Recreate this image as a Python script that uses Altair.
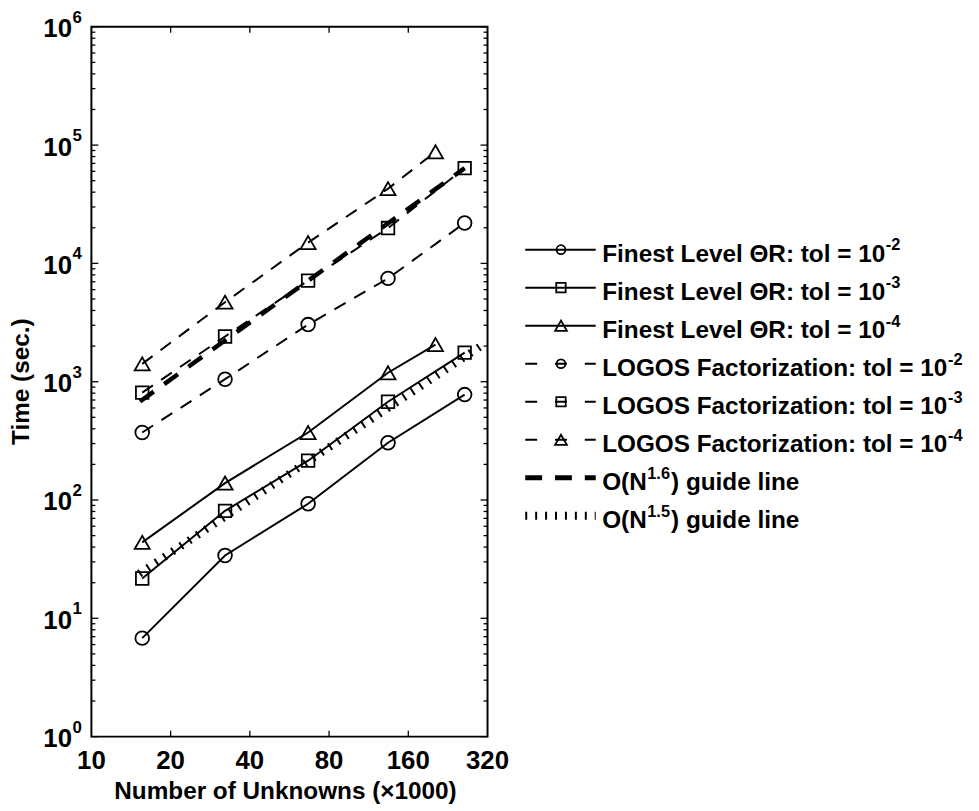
import altair as alt
import pandas as pd

# ---------------- data ----------------
x_main = [15.6, 32.2, 66.6, 134, 262]
x_tri = [15.6, 32.2, 66.6, 134, 203]

fine_1e2 = [6.8, 34, 93, 305, 778]
fine_1e3 = [21.7, 81, 215, 677, 1760]
fine_1e4 = [43.8, 139, 372, 1190, 2060]
logos_1e2 = [372, 1050, 3040, 7470, 21970]
logos_1e3 = [808, 2410, 7150, 19900, 63800]
logos_1e4 = [1415, 4700, 15000, 42800, 87700]

guide16_x = [15.3, 262]
guide16_y = [680, 63800]
guide15_x = [15.2, 304]
guide15_y = [23.8, 2020]

x_tick_vals = [10, 20, 40, 80, 160, 320]
x_tick_labels = ["10", "20", "40", "80", "160", "320"]
x_inner_ticks = [20, 40, 80, 160]
y_major = [1, 10, 100, 1000, 10000, 100000, 1000000]
y_exps = ["0", "1", "2", "3", "4", "5", "6"]
y_minor = [m * 10 ** k for k in range(6) for m in range(2, 10)]

legend_base = ["Finest Level \u0398R: tol = 10", "Finest Level \u0398R: tol = 10",
               "Finest Level \u0398R: tol = 10", "LOGOS Factorization: tol = 10",
               "LOGOS Factorization: tol = 10", "LOGOS Factorization: tol = 10",
               "O(N", "O(N"]
legend_exp = ["-2", "-3", "-4", "-2", "-3", "-4", "1.6", "1.5"]
legend_tail = ["", "", "", "", "", "", ") guide line", ") guide line"]

x_title = "Number of Unknowns (\u00d71000)"
y_title = "Time (sec.)"

# ---------------- layout / style ----------------
W, H = 399, 715
FONT = "Liberation Sans"
xs = alt.Scale(type="log", domain=[10, 320], nice=False)
ys = alt.Scale(type="log", domain=[1, 1000000], nice=False)

# Arial-bold advance widths (per 1000 em) to place superscripts
AW = {' ': 278, '(': 333, ')': 333, '.': 278, ':': 333, '=': 584, '-': 333,
      'F': 611, 'L': 611, 'O': 778, 'G': 778, 'S': 667, 'N': 722, 'R': 722,
      '\u0398': 778, 'a': 556, 'c': 556, 'e': 556, 'g': 611, 'i': 278,
      'l': 278, 'n': 611, 'o': 611, 'r': 389, 's': 556, 't': 333, 'u': 611,
      'v': 556, 'z': 500, 'd': 611}


def text_w(s, size):
    return sum(AW.get(c, 556) for c in s) * size / 1000.0


one = pd.DataFrame({"a": [0]})
layers = []


def add_series(xv, yv, shape, dash, size):
    df = pd.DataFrame({"x": xv, "y": yv})
    base = alt.Chart(df).encode(
        x=alt.X("x:Q", scale=xs, axis=None),
        y=alt.Y("y:Q", scale=ys, axis=None),
    )
    if dash:
        ln = base.mark_line(color="black", strokeWidth=2, strokeDash=dash)
    else:
        ln = base.mark_line(color="black", strokeWidth=2)
    pt = base.mark_point(shape=shape, filled=False, color="black",
                         strokeWidth=1.8, size=size, opacity=1)
    layers.extend([ln, pt])


def add_guide(xv, yv, width, dash):
    df = pd.DataFrame({"x": xv, "y": yv})
    layers.append(
        alt.Chart(df).mark_line(color="black", strokeWidth=width, strokeDash=dash,
                                strokeCap="butt").encode(
            x=alt.X("x:Q", scale=xs, axis=None),
            y=alt.Y("y:Q", scale=ys, axis=None),
        )
    )


add_guide(guide15_x, guide15_y, 8, [2, 8])
add_guide(guide16_x, guide16_y, 4.5, [17, 13])

DASH = [13, 10]
add_series(x_main, fine_1e2, "circle", None, 190)
add_series(x_main, fine_1e3, "square", None, 160)
add_series(x_tri, fine_1e4, "triangle-up", None, 230)
add_series(x_main, logos_1e2, "circle", DASH, 190)
add_series(x_main, logos_1e3, "square", DASH, 160)
add_series(x_tri, logos_1e4, "triangle-up", DASH, 230)

# ---------------- ticks (inward) ----------------
ymaj_df = pd.DataFrame({"v": y_major, "e": y_exps})
ymin_df = pd.DataFrame({"v": y_minor})
for df, ln in [(ymaj_df, 7), (ymin_df, 4)]:
    enc_y = alt.Y("v:Q", scale=ys, axis=None)
    layers.append(alt.Chart(df).mark_rule(color="black", strokeWidth=1.3).encode(
        y=enc_y, x=alt.value(0), x2=alt.value(ln)))
    layers.append(alt.Chart(df).mark_rule(color="black", strokeWidth=1.3).encode(
        y=enc_y, x=alt.value(W), x2=alt.value(W - ln)))

xt_df = pd.DataFrame({"v": x_inner_ticks})
enc_x = alt.X("v:Q", scale=xs, axis=None)
layers.append(alt.Chart(xt_df).mark_rule(color="black", strokeWidth=1.3).encode(
    x=enc_x, y=alt.value(H), y2=alt.value(H - 6)))
layers.append(alt.Chart(xt_df).mark_rule(color="black", strokeWidth=1.3).encode(
    x=enc_x, y=alt.value(0), y2=alt.value(6)))

# ---------------- tick labels ----------------
layers.append(alt.Chart(ymaj_df).mark_text(
    text="10", align="right", baseline="alphabetic", font=FONT, fontWeight="bold",
    fontSize=26, dy=10.5, color="black").encode(
    y=alt.Y("v:Q", scale=ys, axis=None), x=alt.value(-19.5)))
layers.append(alt.Chart(ymaj_df).mark_text(
    align="left", baseline="alphabetic", font=FONT, fontWeight="bold",
    fontSize=17, dy=-4, color="black").encode(
    y=alt.Y("v:Q", scale=ys, axis=None), x=alt.value(-19), text="e:N"))

xl_df = pd.DataFrame({"v": x_tick_vals, "t": x_tick_labels})
layers.append(alt.Chart(xl_df).mark_text(
    align="center", baseline="alphabetic", font=FONT, fontWeight="bold",
    fontSize=26, color="black").encode(
    x=alt.X("v:Q", scale=xs, axis=None), y=alt.value(H + 33), text="t:N"))

# ---------------- axis titles ----------------
layers.append(alt.Chart(one).mark_text(
    text=x_title, align="center", baseline="alphabetic", font=FONT,
    fontWeight="bold", fontSize=24.5, color="black").encode(
    x=alt.value(195.5), y=alt.value(H + 62.7)))
layers.append(alt.Chart(one).mark_text(
    text=y_title, align="center", baseline="alphabetic", angle=270, font=FONT,
    fontWeight="bold", fontSize=24.5, color="black").encode(
    x=alt.value(-62.5), y=alt.value(H / 2)))

# ---------------- legend ----------------
LX0, LX1, LXM, LTX = 437, 508, 473, 514.5
LFS = 24.5
leg_style = [
    (None, "circle", 80, 2), (None, "square", 90, 2), (None, "triangle-up", 140, 2),
    ([12, 18], "circle", 80, 2), ([12, 18], "square", 90, 2), ([12, 18], "triangle-up", 140, 2),
    ([17, 13], None, 0, 5), ([2, 8], None, 0, 8),
]
for i in range(8):
    base_y = 237 + 38.3 * i
    line_y = base_y - 12.5
    dash, shape, msize, lw = leg_style[i]
    kw = dict(color="black", strokeWidth=lw, strokeCap="butt")
    if dash:
        kw["strokeDash"] = dash
    layers.append(alt.Chart(one).mark_rule(**kw).encode(
        x=alt.value(LX0), x2=alt.value(LX1), y=alt.value(line_y)))
    if shape:
        layers.append(alt.Chart(one).mark_point(
            shape=shape, filled=False, color="black", strokeWidth=1.8,
            size=msize, opacity=1).encode(x=alt.value(LXM), y=alt.value(line_y)))
    layers.append(alt.Chart(one).mark_text(
        text=legend_base[i], align="left", baseline="alphabetic", font=FONT,
        fontWeight="bold", fontSize=LFS, color="black").encode(
        x=alt.value(LTX), y=alt.value(base_y)))
    ex = LTX + text_w(legend_base[i], LFS) + 0.5
    layers.append(alt.Chart(one).mark_text(
        text=legend_exp[i], align="left", baseline="alphabetic", font=FONT,
        fontWeight="bold", fontSize=16.5, color="black").encode(
        x=alt.value(ex), y=alt.value(base_y - 11.7)))
    if legend_tail[i]:
        tx = ex + text_w(legend_exp[i], 16.5) + 1
        layers.append(alt.Chart(one).mark_text(
            text=legend_tail[i], align="left", baseline="alphabetic", font=FONT,
            fontWeight="bold", fontSize=LFS, color="black").encode(
            x=alt.value(tx), y=alt.value(base_y)))

chart = alt.layer(*layers).properties(
    width=W, height=H,
    padding={"left": 84, "top": 16, "right": 487, "bottom": 72},
    autosize=alt.AutoSizeParams(type="none"),
).configure_view(stroke="black", strokeWidth=2)

chart.save("out.html", embed_options={"renderer": "svg", "actions": False})
